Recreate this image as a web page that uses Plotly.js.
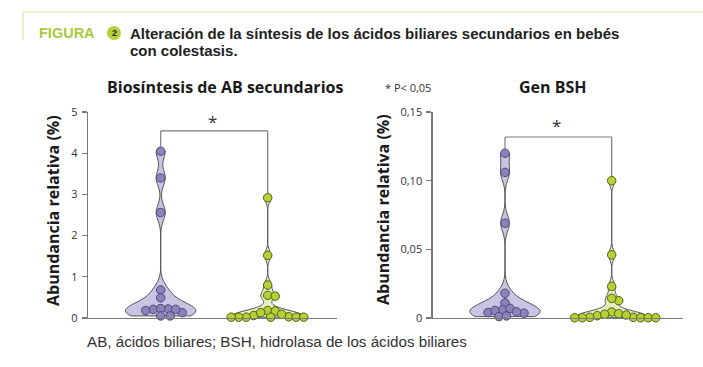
<!DOCTYPE html>
<html>
<head>
<meta charset="utf-8">
<script src="https://cdn.plot.ly/plotly-3.0.1.min.js"></script>
<style>html,body{margin:0;padding:0;background:#fff;}#chart{width:703px;height:367px;}</style>
</head>
<body>
<div id="chart"></div>
<script>
// ---- Data ----
const groups = ["Colestasis", "Control"];
const abPurple = [4.05, 3.40, 2.56, 0.68, 0.49, 0.13, 0.21, 0.18, 0.22, 0.23, 0.05, 0.21, 0.05];
const abGreen  = [2.92, 1.52, 0.80, 0.55, 0.53, 0.18, 0.17, 0.02, 0.06, 0.13, 0.03, 0.09, 0.02, 0.02, 0.02, 0.02, 0.02];
const bshPurple = [0.120, 0.106, 0.069, 0.018, 0.011, 0.0035, 0.006, 0.004, 0.0055, 0.007, 0.001, 0.0045, 0.0015];
const bshGreen  = [0.100, 0.046, 0.023, 0.0126, 0.0143, 0.0005, 0.0044, 0.0017, 0.0031, 0.0002, 0.0027, 0.0005, 0.0002, 0.0002, 0.0002, 0.0022, 0.0002];
const abTickVals = [0, 1, 2, 3, 4, 5];
const abTickText = ["0", "1", "2", "3", "4", "5"];
const bshTickVals = [0, 0.05, 0.10, 0.15];
const bshTickText = ["0", "0,05", "0,10", "0,15"];

// ---- Layout geometry (pixels) ----
const W = 703, H = 367;
const X = p => p / W, Y = p => 1 - p / H;
const yTop = 112, yBot = 318;
const L = {x0: 88, x1: 337, c0: 160.7, c1: 267.7};
const R = {x0: 432.7, x1: 683, c0: 505, c1: 611.7};
function xRange(p){ const s = p.c1 - p.c0; return [(p.x0 - p.c0)/s, (p.x1 - p.c0)/s]; }

const purpleFill = "#c9c3e4", purplePt = "#8c82c0", purpleLine = "#4e4a6e";
const greenFill = "#e4efc2", greenPt = "#b4d234", greenLine = "#4f5e1c";
const axisCol = "#7a7a7a";
const FONT = "Open Sans, Noto Sans, sans-serif";
const HFONT = "Liberation Sans, Arial, sans-serif";

// beeswarm offsets computed from values
function swarm(vals, yMax, panel){
  const yPx = (yBot - yTop) / yMax;
  const xu = 1 / (panel.c1 - panel.c0);
  const MIN = 7.2;
  const order = vals.map((v,i)=>i).sort((a,b)=>vals[b]-vals[a]);
  const placed = []; const off = new Array(vals.length).fill(0);
  for (const i of order){
    const py = vals[i]*yPx;
    for (let k = 0; k < 400; k++){
      const s = k === 0 ? 0 : (k % 2 ? Math.ceil(k/2) : -k/2) * 0.5;
      if (placed.every(p => Math.hypot(p[0]-s, p[1]-py) >= MIN)){
        placed.push([s, py]); off[i] = s * xu; break;
      }
    }
  }
  return off;
}

function violin(vals, pos, fill, bw, xa, ya){
  return {type: "violin", x0: pos, y: vals, xaxis: xa, yaxis: ya, name: groups[pos],
    width: 0.66, scalemode: "width", spanmode: "hard", points: false, bandwidth: bw,
    fillcolor: fill, line: {color: "#555", width: 1}, box: {visible: false},
    meanline: {visible: false}, hoverinfo: "y", showlegend: false};
}
function dots(vals, pos, yMax, panel, col, lc, xa, ya){
  const off = swarm(vals, yMax, panel);
  return {type: "scatter", mode: "markers", x: off.map(o => pos + o), y: vals,
    xaxis: xa, yaxis: ya, cliponaxis: false, showlegend: false, name: groups[pos],
    marker: {size: 8.5, color: col, line: {color: lc, width: 1}}};
}

const data = [
  violin(abPurple, 0, purpleFill, 0.19, "x", "y"),
  violin(abGreen, 1, greenFill, 0.11, "x", "y"),
  violin(bshPurple, 0, purpleFill, 0.0058, "x2", "y2"),
  violin(bshGreen, 1, greenFill, 0.0035, "x2", "y2"),
  dots(abPurple, 0, 5, L, purplePt, purpleLine, "x", "y"),
  dots(abGreen, 1, 5, L, greenPt, greenLine, "x", "y"),
  dots(bshPurple, 0, 0.15, R, purplePt, purpleLine, "x2", "y2"),
  dots(bshGreen, 1, 0.15, R, greenPt, greenLine, "x2", "y2")
];

const yDom = [Y(yBot), Y(yTop)];
function xAxis(p){ return {domain: [X(p.x0), X(p.x1)], range: xRange(p), type: "linear",
  showgrid: false, zeroline: false, showticklabels: false, ticks: "",
  showline: true, linecolor: axisCol, linewidth: 1.3, fixedrange: true}; }
function yAxis(tv, tt, anchor){ return {domain: yDom, range: [0, tv[tv.length-1]],
  tickvals: tv, ticktext: tt, ticks: "outside", ticklen: 5, tickwidth: 1.2, tickcolor: axisCol,
  showline: true, linecolor: axisCol, linewidth: 1.3, showgrid: false, zeroline: false,
  tickfont: {family: FONT, size: 11, color: "#333"}, anchor: anchor, ticklabelstandoff: 2}; }

// bracket helpers (data coords)
const rPxL = 4.5 * 5 / (yBot - yTop), rPxR = 4.5 * 0.15 / (yBot - yTop);
function bracket(xref, yref, yLev, top0, top1){
  const ln = {color: axisCol, width: 1.2};
  return [
    {type: "line", xref, yref, x0: 0, x1: 1, y0: yLev, y1: yLev, line: ln},
    {type: "line", xref, yref, x0: 0, x1: 0, y0: yLev, y1: top0, line: ln},
    {type: "line", xref, yref, x0: 1, x1: 1, y0: yLev, y1: top1, line: ln}
  ];
}
const shapes = [
  {type: "line", xref: "paper", yref: "paper", x0: X(23), x1: X(703), y0: Y(12), y1: Y(12), line: {color: "#d3e290", width: 1}},
  {type: "line", xref: "paper", yref: "paper", x0: X(23), x1: X(23), y0: Y(12), y1: Y(40), line: {color: "#d3e290", width: 1}},
  {type: "circle", xref: "paper", yref: "paper", x0: X(107), x1: X(121), y0: Y(26), y1: Y(40), fillcolor: "#b7d03c", line: {width: 0}},
  ...bracket("x", "y", 4.54, Math.max(...abPurple) + rPxL, Math.max(...abGreen) + rPxL),
  ...bracket("x2", "y2", 0.1318, Math.max(...bshPurple) + rPxR, Math.max(...bshGreen) + rPxR)
];

function ann(text, x, y, opt){
  return Object.assign({text, x: X(x), y: Y(y), xref: "paper", yref: "paper", showarrow: false,
    xanchor: "center", yanchor: "middle", font: {family: FONT, size: 11, color: "#222"}}, opt || {});
}
const annotations = [
  ann("<b>FIGURA</b>", 37, 33, {xanchor: "left", font: {family: HFONT, size: 14.5, color: "#a9c83e"}}),
  ann("<b>2</b>", 114, 33, {font: {family: HFONT, size: 9, color: "#222"}}),
  ann("<b>Alteración de la síntesis de los ácidos biliares secundarios en bebés</b>", 128, 33, {xanchor: "left", font: {family: HFONT, size: 15, color: "#222"}}),
  ann("<b>con colestasis.</b>", 128, 51, {xanchor: "left", font: {family: HFONT, size: 15, color: "#222"}}),
  ann("<b>Biosíntesis de AB secundarios</b>", 225, 87, {font: {family: FONT, size: 16, color: "#1a1a1a"}}),
  ann("<b>Gen BSH</b>", 553, 87, {font: {family: FONT, size: 16, color: "#1a1a1a"}}),
  ann("* P< 0,05", 383, 87, {xanchor: "left", font: {family: FONT, size: 11, color: "#333"}}),
  ann("<b>Abundancia relativa (%)</b>", 53, 210, {textangle: -90, font: {family: FONT, size: 16, color: "#1a1a1a"}}),
  ann("<b>Abundancia relativa (%)</b>", 383, 210, {textangle: -90, font: {family: FONT, size: 16, color: "#1a1a1a"}}),
  ann("*", 212.7, 121, {font: {family: FONT, size: 17, color: "#333"}}),
  ann("*", 556.7, 125, {font: {family: FONT, size: 17, color: "#333"}}),
  ann("AB, ácidos biliares; BSH, hidrolasa de los ácidos biliares", 85, 341, {xanchor: "left", font: {family: HFONT, size: 15.2, color: "#333"}})
];

const layout = {
  width: W, height: H, margin: {l: 0, r: 0, t: 0, b: 0},
  paper_bgcolor: "#fff", plot_bgcolor: "rgba(0,0,0,0)", showlegend: false,
  violinmode: "overlay",
  xaxis: Object.assign(xAxis(L), {anchor: "y"}),
  yaxis: yAxis(abTickVals, abTickText, "x"),
  xaxis2: Object.assign(xAxis(R), {anchor: "y2"}),
  yaxis2: yAxis(bshTickVals, bshTickText, "x2"),
  shapes, annotations
};
Plotly.newPlot("chart", data, layout, {displayModeBar: false, staticPlot: true});
</script>
</body>
</html>
